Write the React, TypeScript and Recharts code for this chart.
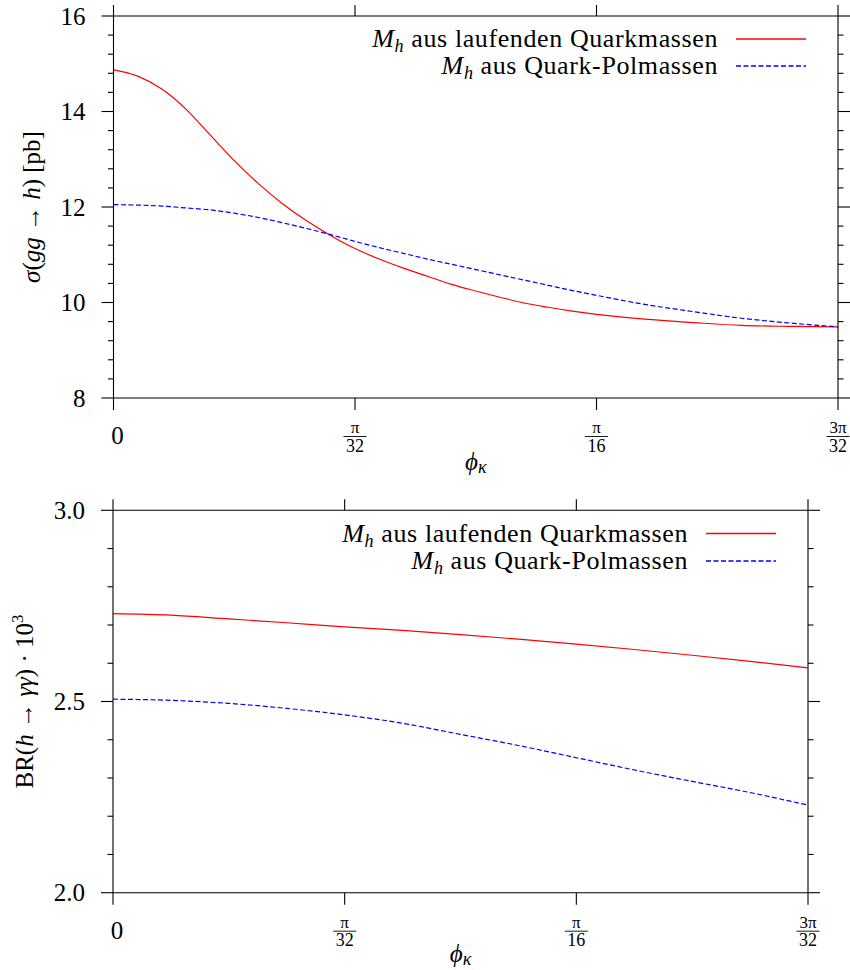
import { LineChart, Line, XAxis, YAxis, Legend, ReferenceLine } from 'recharts'

const FONT = "'Liberation Serif', 'DejaVu Serif', serif"

// phi_kappa in units of pi/32
const phiTop = [0, 0.1, 0.2, 0.3, 0.4, 0.5, 0.6, 0.7, 0.8, 0.9, 1.0, 1.1, 1.2, 1.3, 1.4, 1.5, 1.6, 1.7, 1.8, 1.9, 2.0, 2.2, 2.4, 2.6, 2.8, 3.0]
const sigmaRunning = [14.87, 14.74, 14.47, 14.05, 13.51, 12.97, 12.49, 12.07, 11.71, 11.4, 11.13, 10.91, 10.72, 10.55, 10.38, 10.24, 10.11, 9.99, 9.9, 9.82, 9.75, 9.65, 9.58, 9.52, 9.5, 9.49]
const sigmaPole = [12.05, 12.04, 12.02, 11.98, 11.94, 11.87, 11.78, 11.67, 11.55, 11.42, 11.28, 11.15, 11.03, 10.91, 10.8, 10.69, 10.58, 10.47, 10.36, 10.25, 10.15, 9.96, 9.81, 9.67, 9.57, 9.49]

const phiBottom = [0, 0.25, 0.5, 0.75, 1.0, 1.25, 1.5, 1.75, 2.0, 2.25, 2.5, 2.75, 3.0]
const brRunning = [2.73, 2.726, 2.716, 2.706, 2.695, 2.686, 2.675, 2.663, 2.65, 2.636, 2.621, 2.605, 2.588]
const brPole = [2.506, 2.503, 2.495, 2.482, 2.465, 2.443, 2.414, 2.385, 2.353, 2.321, 2.291, 2.262, 2.229]

const phiTicks = [0, 1, 2, 3]
const phiTickLabels = [['0'], ['π', '32'], ['π', '16'], ['3π', '32']]

const sigmaTicks = [8, 8.4, 8.8, 9.2, 9.6, 10, 10.4, 10.8, 11.2, 11.6, 12, 12.4, 12.8, 13.2, 13.6, 14, 14.4, 14.8, 15.2, 15.6, 16]
const sigmaMajor = [8, 10, 12, 14, 16]
const brTicks = [2.0, 2.1, 2.2, 2.3, 2.4, 2.5, 2.6, 2.7, 2.8, 2.9, 3.0]
const brMajor = [2.0, 2.5, 3.0]

const series = [
    { key: 'running', name: 'aus laufenden Quarkmassen', color: '#ff0000', dash: undefined as string | undefined },
    { key: 'pole', name: 'aus Quark-Polmassen', color: '#0000ff', dash: '5 2.5' },
]

const topData = phiTop.map((t, i) => ({ phi: t, running: sigmaRunning[i], pole: sigmaPole[i] }))
const bottomData = phiBottom.map((t, i) => ({ phi: t, running: brRunning[i], pole: brPole[i] }))

interface Geo { width: number; height: number; left: number; right: number; top: number; bottom: number }

const topGeo: Geo = { width: 850, height: 490, left: 113.5, right: 838, top: 16, bottom: 398 }
const bottomGeo: Geo = { width: 850, height: 480, left: 113, right: 808, top: 20.3, bottom: 402.7 }

const makeYTick = (geo: Geo, majors: number[], fmt: (v: number) => string) => (props: any) => {
    const { y, payload } = props
    const v = payload.value
    const major = majors.some(m => Math.abs(m - v) < 1e-6)
    const len = major ? 12 : 5.5
    return (
        <g>
            <line x1={geo.left - len} x2={geo.left} y1={y} y2={y} stroke="#000" strokeWidth={1.1} />
            <line x1={geo.right} x2={geo.right + len} y1={y} y2={y} stroke="#000" strokeWidth={1.1} />
            {major && (
                <text x={geo.left - 28} y={y + 8.5} textAnchor="end" fontFamily={FONT} fontSize={25} fill="#000">
                    {fmt(v)}
                </text>
            )}
        </g>
    )
}

const makeXTick = (geo: Geo) => (props: any) => {
    const { x, payload } = props
    const idx = phiTicks.indexOf(payload.value)
    const lab = phiTickLabels[idx] ?? ['']
    const b = geo.bottom
    return (
        <g>
            <line x1={x} x2={x} y1={b} y2={b + 12} stroke="#000" strokeWidth={1.1} />
            <line x1={x} x2={x} y1={geo.top - 11} y2={geo.top} stroke="#000" strokeWidth={1.1} />
            {lab.length === 1 ? (
                <text x={x + 4} y={b + 46} textAnchor="middle" fontFamily={FONT} fontSize={25} fill="#000">{lab[0]}</text>
            ) : (
                <g fontFamily={FONT} fill="#000">
                    <text x={x} y={b + 35} textAnchor="middle" fontSize={17}>{lab[0]}</text>
                    <line x1={x - 11.5} x2={x + 11.5} y1={b + 38.5} y2={b + 38.5} stroke="#000" strokeWidth={0.9} />
                    <text x={x} y={b + 53.5} textAnchor="middle" fontSize={18}>{lab[1]}</text>
                </g>
            )}
        </g>
    )
}

const makeLegend = (geo: Geo, rows: number[]) => (props: any) => {
    const payload: any[] = props.payload ?? []
    const shown = series.filter(s => payload.length === 0 || payload.some(p => p.dataKey === s.key))
    return (
        <svg width={geo.width} height={90} style={{ display: 'block' }}>
            {shown.map((s, i) => {
                const y = rows[i]
                return (
                    <g key={s.key}>
                        <text x={geo.right - 120} y={y + 8} textAnchor="end" fontFamily={FONT} fontSize={26}
                            letterSpacing={0.6} fill="#000" style={{ whiteSpace: 'pre' }}>
                            <tspan fontStyle="italic">M</tspan>
                            <tspan fontStyle="italic" fontSize={18} dy={5}>h</tspan>
                            <tspan dy={-5}>{' ' + s.name}</tspan>
                        </text>
                        <line x1={geo.right - 102} x2={geo.right - 32} y1={y} y2={y}
                            stroke={s.color} strokeWidth={1.3} strokeDasharray={s.dash} />
                    </g>
                )
            })}
        </svg>
    )
}

interface PanelProps {
    geo: Geo
    data: { phi: number; running: number; pole: number }[]
    yDomain: [number, number]
    yTicks: number[]
    yMajor: number[]
    fmt: (v: number) => string
    legendRows: number[]
    yTitle: React.ReactNode
    yTitleX: number
    xTitleDy: number
}

function Panel({ geo, data, yDomain, yTicks, yMajor, fmt, legendRows, yTitle, yTitleX, xTitleDy }: PanelProps) {
    const midY = (geo.top + geo.bottom) / 2
    const midX = (geo.left + geo.right) / 2
    return (
        <div style={{ position: 'relative', width: geo.width, height: geo.height }}>
            <LineChart width={geo.width} height={geo.height} data={data}
                margin={{ top: geo.top, right: geo.width - geo.right, left: 0, bottom: 0 }}>
                <XAxis dataKey="phi" type="number" domain={[0, 3]} ticks={phiTicks} interval={0}
                    height={geo.height - geo.bottom} tickLine={false}
                    axisLine={{ stroke: '#000', strokeWidth: 1.1 }} tick={makeXTick(geo)}
                    label={() => (
                        <text x={midX} y={geo.bottom + xTitleDy} textAnchor="middle" fontFamily={FONT} fill="#000">
                            <tspan fontStyle="italic" fontSize={25}>ϕ</tspan>
                            <tspan fontStyle="italic" fontSize={18} dy={3}>κ</tspan>
                        </text>
                    )} />
                <YAxis type="number" domain={yDomain} ticks={yTicks} interval={0} width={geo.left}
                    tickLine={false} axisLine={{ stroke: '#000', strokeWidth: 1.1 }}
                    tick={makeYTick(geo, yMajor, fmt)}
                    label={() => (
                        <text transform={`translate(${yTitleX}, ${midY}) rotate(-90)`} textAnchor="middle"
                            fontFamily={FONT} fontSize={25} fill="#000" style={{ whiteSpace: 'pre' }}>
                            {yTitle}
                        </text>
                    )} />
                <ReferenceLine y={yDomain[1]} stroke="#000" strokeWidth={1.1} />
                <ReferenceLine x={3} stroke="#000" strokeWidth={1.1} />
                {series.map(s => (
                    <Line key={s.key} dataKey={s.key} name={s.name} type="monotone" stroke={s.color}
                        strokeWidth={1.2} strokeDasharray={s.dash} dot={false} activeDot={false}
                        isAnimationActive={false} />
                ))}
                <Legend layout="vertical" align="center" verticalAlign="middle"
                    wrapperStyle={{ left: 0, top: 0, width: geo.width, height: 90 }}
                    content={makeLegend(geo, legendRows)} />
            </LineChart>
        </div>
    )
}

export default function App() {
    return (
        <div style={{ position: 'absolute', left: 0, top: 0, width: 850, height: 970, background: '#fff' }}>
            <Panel geo={topGeo} data={topData} yDomain={[8, 16]} yTicks={sigmaTicks} yMajor={sigmaMajor}
                fmt={v => String(v)} legendRows={[39, 66]} yTitleX={40} xTitleDy={72}
                yTitle={<>
                    <tspan fontStyle="italic">σ</tspan>
                    <tspan>(</tspan>
                    <tspan fontStyle="italic">gg</tspan>
                    <tspan>{' → '}</tspan>
                    <tspan fontStyle="italic">h</tspan>
                    <tspan>{') [pb]'}</tspan>
                </>} />
            <Panel geo={bottomGeo} data={bottomData} yDomain={[2, 3]} yTicks={brTicks} yMajor={brMajor}
                fmt={v => v.toFixed(1)} legendRows={[43.5, 71]} yTitleX={33} xTitleDy={69}
                yTitle={<>
                    <tspan>BR(</tspan>
                    <tspan fontStyle="italic">h</tspan>
                    <tspan>{' → '}</tspan>
                    <tspan fontStyle="italic">γγ</tspan>
                    <tspan>{') · 10'}</tspan>
                    <tspan fontSize={17} dy={-10}>3</tspan>
                </>} />
        </div>
    )
}
